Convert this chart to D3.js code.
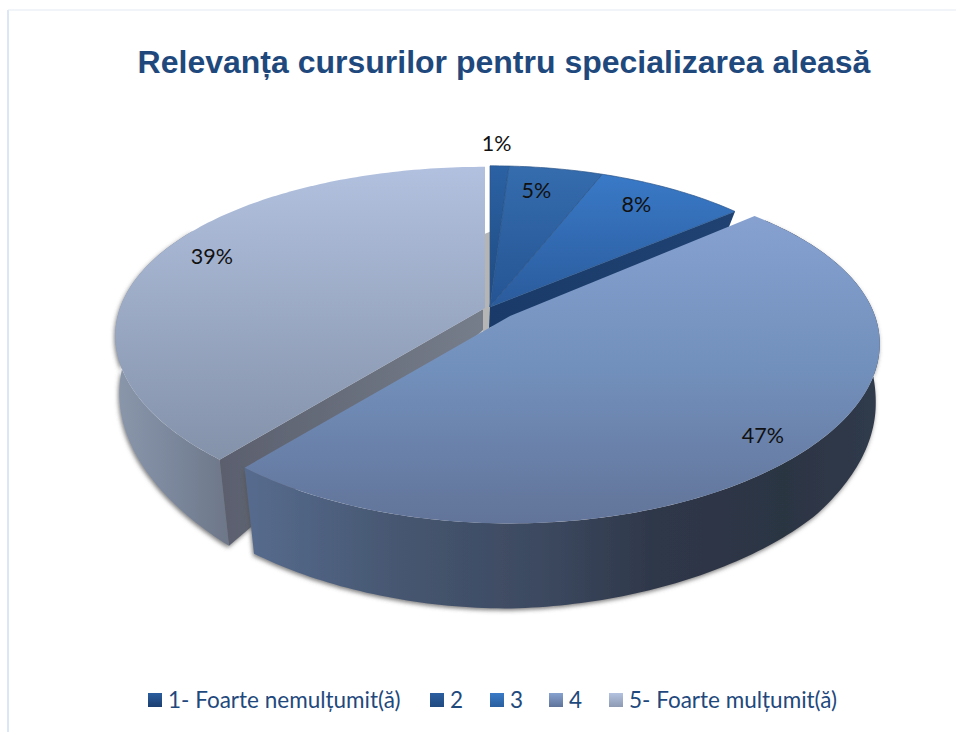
<!DOCTYPE html>
<html><head><meta charset="utf-8">
<script src="https://cdnjs.cloudflare.com/ajax/libs/d3/7.8.5/d3.min.js"></script>
<style>html,body{margin:0;padding:0;background:#fff}svg{display:block}</style>
</head><body><svg id="c" width="956" height="732"></svg>
<script>
const titleText = "Relevanța cursurilor pentru specializarea aleasă";
const categories = ["1- Foarte nemulțumit(ă)", "2", "3", "4", "5- Foarte mulțumit(ă)"];
const values = [1, 5, 8, 47, 39];

// layout and style
const apex = [[490,307],[490,307],[490,307],[510,316],[485,308]];
const xScale = [.96,.96,.96,1,1];
const topStops = [["#2b62a4","#1f4a80"],["#356dae","#255493"],["#3a7ac8","#2a5b9c"],["#86a1d0","#7290bc","#627499"],["#b2c1df","#8391a9"]];
const topRange = [[165,307],[165,307],[172,307],[217,522],[165,462]];
const swatchStops = [["#2a5d9e","#1c3f70"],["#2c5e9f","#214a80"],["#3a7ac6","#2a5f9f"],["#87a2d0","#5f7399"],["#b3c2e0","#8e9ab2"]];
const legendX = [148,430,490,549,609];
const labelRadius = [1.15,.8,.8,.86,.85];
const labelNudge = [[-4,-5],[-8,-2],[-3,-6],[7,4],[6,-6]];
const A = 365, B = 168, PX = .16, PY = .19, APEX_DEPTH = 22;
const depthAt = d3.scaleLinear().domain([0,50,75,100,130,180,220,260,300,360]).range([16,16,35,62,78,85,86,60,40,30]);
const deg = 180/Math.PI;
const slice4StartTrim = 2.5/deg;

const svg = d3.select("#c");
const defs = svg.append("defs");
const f = defs.append("filter").attr("id","sh").attr("x","-5%").attr("y","-5%").attr("width","110%").attr("height","115%");
f.append("feDropShadow").attr("dx",-1).attr("dy",2).attr("stdDeviation",2).attr("flood-color","#555").attr("flood-opacity",.75);

function grad(id, stops, x1, y1, x2, y2){
  const g = defs.append("linearGradient").attr("id",id).attr("gradientUnits","userSpaceOnUse")
    .attr("x1",x1).attr("y1",y1).attr("x2",x2).attr("y2",y2);
  stops.forEach(([o,c])=>g.append("stop").attr("offset",o).attr("stop-color",c));
  return `url(#${id})`;
}
const line = d3.line();
function rim(i, t, r=1){
  const c = Math.cos(t);
  return [apex[i][0] + xScale[i]*A*r*Math.sin(t)/(1+PX*r*c), apex[i][1] - B*r*c/(1+PY*r*c)];
}
function rimBottom(i, t){
  const [x,y] = rim(i,t);
  const shrink = .92 + .07*Math.abs(Math.sin(t));
  return [apex[i][0] + (x-apex[i][0])*shrink, y + depthAt(((t*deg)%360+360)%360)];
}
function samples(a,b){ const n = Math.max(2,Math.ceil((b-a)*deg)); return d3.range(n+1).map(k=>a+(b-a)*k/n); }

const arcs = d3.pie().sort(null).value(d=>d)(values);

// borders
svg.append("line").attr("x1",8).attr("x2",8).attr("y1",10).attr("y2",732).attr("stroke","#dce7f6").attr("stroke-width",2);
svg.append("line").attr("x1",8).attr("x2",956).attr("y1",10).attr("y2",10).attr("stroke","#e3e9f2").attr("stroke-width",1);

// slice 5 walls
const a5 = arcs[4], a4 = arcs[3], a3 = arcs[2];
const wall5 = grad("w5",[[0,"#8b97ab"],[.5,"#7b879c"],[1,"#6c7687"]],113,0,232,0);
const face5 = grad("f5",[[0,"#5b606e"],[1,"#767d8b"]],225,0,485,0);
const wall4 = grad("w4",[[0,"#566b8d"],[.24,"#465670"],[.45,"#3d4a61"],[.65,"#2e3749"],[.85,"#2c3443"],[1,"#303b4d"]],250,0,880,0);
const shadowed = svg.append("g").attr("filter","url(#sh)");

function wallPath(i,a,b){
  const ts = samples(a,b);
  return line(ts.map(t=>rim(i,t)).concat(ts.slice().reverse().map(t=>rimBottom(i,t))))+"Z";
}
function apexBottom(i){ return [apex[i][0]-2, apex[i][1]+APEX_DEPTH]; }

shadowed.append("path").attr("d",wallPath(4,a5.startAngle,a5.endAngle-Math.PI/3)).attr("fill",wall5);
// straight face of slice 5 towards the gap
shadowed.append("path").attr("d",line([apex[4],rim(4,a5.startAngle),rimBottom(4,a5.startAngle),apexBottom(4)])+"Z").attr("fill",face5);
// grey inner face of slice 5 at twelve o'clock
const r0 = rim(4,a5.endAngle);
svg.append("path").attr("d",line([[r0[0],r0[1]+67],[r0[0]+5,r0[1]+65],[r0[0]+5,apex[4][1]+24],[apex[4][0]-2,apex[4][1]+24],[apex[4][0]-2,apex[4][1]]])+"Z").attr("fill","#b5b5b5");

function drawTop(i,a,b){
  const s = topStops[i];
  const fill = grad("t"+i,s.map((c,k)=>[k/(s.length-1),c]),0,topRange[i][0],0,topRange[i][1]);
  svg.append("path").attr("d",line([apex[i]].concat(samples(a,b).map(t=>rim(i,t))))+"Z")
    .attr("fill",fill).attr("stroke",i<3?"#2b5488":"none").attr("stroke-width",i<3?.7:0);
}
drawTop(4,a5.startAngle,a5.endAngle);

// inner wall of slices 1-3
svg.append("path").attr("d",line([apex[2],rim(2,a3.endAngle),rimBottom(2,a3.endAngle),[apex[2][0]-1,apex[2][1]+21]])+"Z")
  .attr("fill",grad("w3",[[0,"#1a3b69"],[1,"#1f4273"]],490,0,737,0));
[0,1,2].forEach(i=>drawTop(i,arcs[i].startAngle,arcs[i].endAngle));

// slice 4
svg.append("path").attr("d",wallPath(3,a4.startAngle,a4.endAngle)).attr("fill",wall4).attr("filter","url(#sh)");
drawTop(3,a4.startAngle-slice4StartTrim,a4.endAngle);

// data labels
svg.append("g").selectAll("text").data(arcs).join("text")
  .attr("x",(d,i)=>rim(i,(d.startAngle+d.endAngle)/2,labelRadius[i])[0]+labelNudge[i][0])
  .attr("y",(d,i)=>rim(i,(d.startAngle+d.endAngle)/2,labelRadius[i])[1]+labelNudge[i][1]+7.5)
  .attr("text-anchor","middle").attr("font-family","Lato").attr("font-size",21.5).attr("fill","#111")
  .text(d=>d.value+"%");

// title
svg.append("text").attr("x",504).attr("y",73).attr("text-anchor","middle")
  .attr("font-family","Liberation Sans").attr("font-weight","bold").attr("font-size",32).attr("fill","#1f497d").text(titleText);

// legend
const lg = svg.append("g").selectAll("g").data(categories).join("g").attr("transform",(d,i)=>`translate(${legendX[i]},693)`);
lg.append("rect").attr("width",14).attr("height",14)
  .attr("fill",(d,i)=>{
    const id="s"+i, g=defs.append("linearGradient").attr("id",id).attr("x1",0).attr("y1",0).attr("x2",0).attr("y2",1);
    g.append("stop").attr("offset",0).attr("stop-color",swatchStops[i][0]);
    g.append("stop").attr("offset",1).attr("stop-color",swatchStops[i][1]);
    return `url(#${id})`;
  });
lg.append("text").attr("x",20).attr("y",14.5).attr("font-family","Lato").attr("font-size",22.5).attr("fill","#1f497d").text(d=>d);
</script></body></html>
